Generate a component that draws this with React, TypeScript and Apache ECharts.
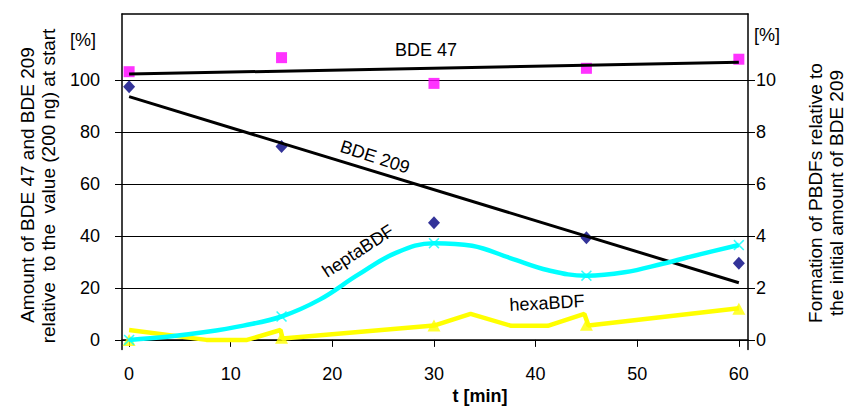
import React, { useEffect, useRef } from "react";
import * as echarts from "echarts";

const xTicks = [0, 10, 20, 30, 40, 50, 60];
const leftTicks = [0, 20, 40, 60, 80, 100];
const rightTicks = [0, 2, 4, 6, 8, 10];

const times = [0, 15, 30, 45, 60];
const bde47 = [103.2, 108.6, 98.7, 104.5, 108.0];
const bde209 = [97.4, 74.4, 45.1, 39.3, 29.5];

const trendTimes = [0, 60];
const bde47Trend = [102.3, 106.8];
const bde209Trend = [93.6, 22.0];

const heptaTimes = [0, 3.75, 7.5, 11.25, 15, 18.75, 22.5, 26.25, 30, 33.75, 37.5, 41.25, 45, 48.75, 52.5, 56.25, 60];
const heptaValues = [0, 0.12, 0.3, 0.55, 0.9, 1.55, 2.5, 3.35, 3.72, 3.62, 3.15, 2.68, 2.47, 2.6, 2.93, 3.3, 3.65];
const heptaMarkers = [0, 0.9, 3.72, 2.47, 3.65];

const hexaTimes = [0, 7.6, 11.6, 14.9, 15.1, 30, 33.6, 37.6, 41.2, 44.8, 45.2, 60];
const hexaValues = [0.38, 0, 0, 0.38, 0.05, 0.55, 1.0, 0.54, 0.54, 1.0, 0.55, 1.22];
const hexaMarkers = [0, 0.08, 0.55, 0.58, 1.2];

const FONT = "'Liberation Sans', Arial, sans-serif";
const zip = (xs: number[], ys: number[]) => xs.map((x, i) => [x, ys[i]]);

const X_SYMBOL = "path://M0,1L1,0L5,4L9,0L10,1L6,5L10,9L9,10L5,6L1,10L0,9L4,5Z";

export default function App() {
  const ref = useRef<HTMLDivElement>(null);
  useEffect(() => {
    if (!ref.current) return;
    const chart = echarts.init(ref.current, null, { renderer: "svg" });
    const txt = (text: string, x: number, y: number, size: number, rot = 0, bold = false) => ({
      type: "text",
      x,
      y,
      rotation: (rot * Math.PI) / 180,
      style: {
        text,
        fill: "#000",
        font: `${bold ? "bold " : ""}${size}px ${FONT}`,
        textAlign: "center",
        textVerticalAlign: "middle",
        align: "center",
        verticalAlign: "middle",
      },
      z: 100,
    });
    chart.setOption({
      animation: false,
      backgroundColor: "#fff",
      grid: { left: 122, right: 97, top: 14, bottom: 57.5, containLabel: false },
      xAxis: [
        {
          type: "value",
          min: -0.7,
          max: 60.9,
          axisLine: { show: true, onZero: true, lineStyle: { color: "#000", width: 1.5 } },
          axisTick: { show: true, customValues: xTicks, length: 7, lineStyle: { color: "#000" } },
          axisLabel: { customValues: xTicks, margin: 15, fontSize: 18, color: "#000", fontFamily: FONT },
          splitLine: { show: false },
        },
        {
          type: "value",
          position: "top",
          min: -0.7,
          max: 60.9,
          axisLine: { show: true, onZero: false, lineStyle: { color: "#000", width: 1.5 } },
          axisTick: { show: false },
          axisLabel: { show: false },
          splitLine: { show: false },
        },
      ],
      yAxis: [
        {
          type: "value",
          min: -3.7,
          max: 125.4,
          axisLine: { show: true, onZero: false, lineStyle: { color: "#000", width: 1.5 } },
          axisTick: { show: true, customValues: leftTicks, length: 7, lineStyle: { color: "#000" } },
          axisLabel: { customValues: leftTicks, margin: 22, fontSize: 18, color: "#000", fontFamily: FONT },
          splitLine: { show: true, lineStyle: { color: "#000", width: 1 } },
        },
        {
          type: "value",
          position: "right",
          min: -0.37,
          max: 12.54,
          axisLine: { show: true, onZero: false, lineStyle: { color: "#000", width: 1.5 } },
          axisTick: { show: true, customValues: rightTicks, length: 7, lineStyle: { color: "#000" } },
          axisLabel: { customValues: rightTicks, margin: 8, fontSize: 18, color: "#000", fontFamily: FONT },
          splitLine: { show: false },
        },
      ],
      series: [
        {
          name: "BDE 47",
          type: "scatter",
          symbol: "rect",
          symbolSize: 11,
          itemStyle: { color: "#FF00FF" },
          data: zip(times, bde47),
        },
        {
          name: "BDE 209",
          type: "scatter",
          symbol: "diamond",
          symbolSize: [12, 13],
          itemStyle: { color: "#000080" },
          data: zip(times, bde209),
        },
        {
          name: "BDE 47 trend",
          type: "line",
          showSymbol: false,
          lineStyle: { color: "#000", width: 3 },
          data: zip(trendTimes, bde47Trend),
        },
        {
          name: "BDE 209 trend",
          type: "line",
          showSymbol: false,
          lineStyle: { color: "#000", width: 3 },
          data: zip(trendTimes, bde209Trend),
        },
        {
          name: "hexaBDF",
          type: "line",
          yAxisIndex: 1,
          showSymbol: false,
          lineStyle: { color: "#FFFF00", width: 4.5 },
          data: zip(hexaTimes, hexaValues),
        },
        {
          name: "hexaBDF markers",
          type: "scatter",
          yAxisIndex: 1,
          symbol: "triangle",
          symbolSize: [13, 12],
          itemStyle: { color: "#FFFF00" },
          data: zip(times, hexaMarkers),
        },
        {
          name: "heptaBDF",
          type: "line",
          yAxisIndex: 1,
          smooth: 0.4,
          showSymbol: false,
          lineStyle: { color: "#00FFFF", width: 4.5 },
          data: zip(heptaTimes, heptaValues),
        },
        {
          name: "heptaBDF markers",
          type: "scatter",
          yAxisIndex: 1,
          symbol: X_SYMBOL,
          symbolSize: 11,
          itemStyle: { color: "#00FFFF" },
          data: zip(times, heptaMarkers),
        },
      ],
      graphic: [
        txt("[%]", 83, 40, 18),
        txt("[%]", 767, 35, 18),
        txt("BDE 47", 426, 50, 18),
        txt("BDE 209", 375, 157, 18, -18),
        txt("heptaBDF", 358, 251, 18, 33),
        txt("hexaBDF", 547, 303, 18, 3),
        txt("t [min]", 480, 396, 18, 0, true),
        txt("Amount of BDE 47 and BDE 209", 27, 185, 19, 90),
        txt("relative  to the  value (200 ng) at start", 48.5, 186, 19, 90),
        txt("Formation of PBDFs relative to", 815, 193, 19, 90),
        txt("the initial amount of BDE 209", 836, 193, 19, 90),
      ],
    });
    return () => chart.dispose();
  }, []);
  return (
    <div
      ref={ref}
      style={{ position: "fixed", left: 0, top: 0, width: 845, height: 407, background: "#fff" }}
    />
  );
}
